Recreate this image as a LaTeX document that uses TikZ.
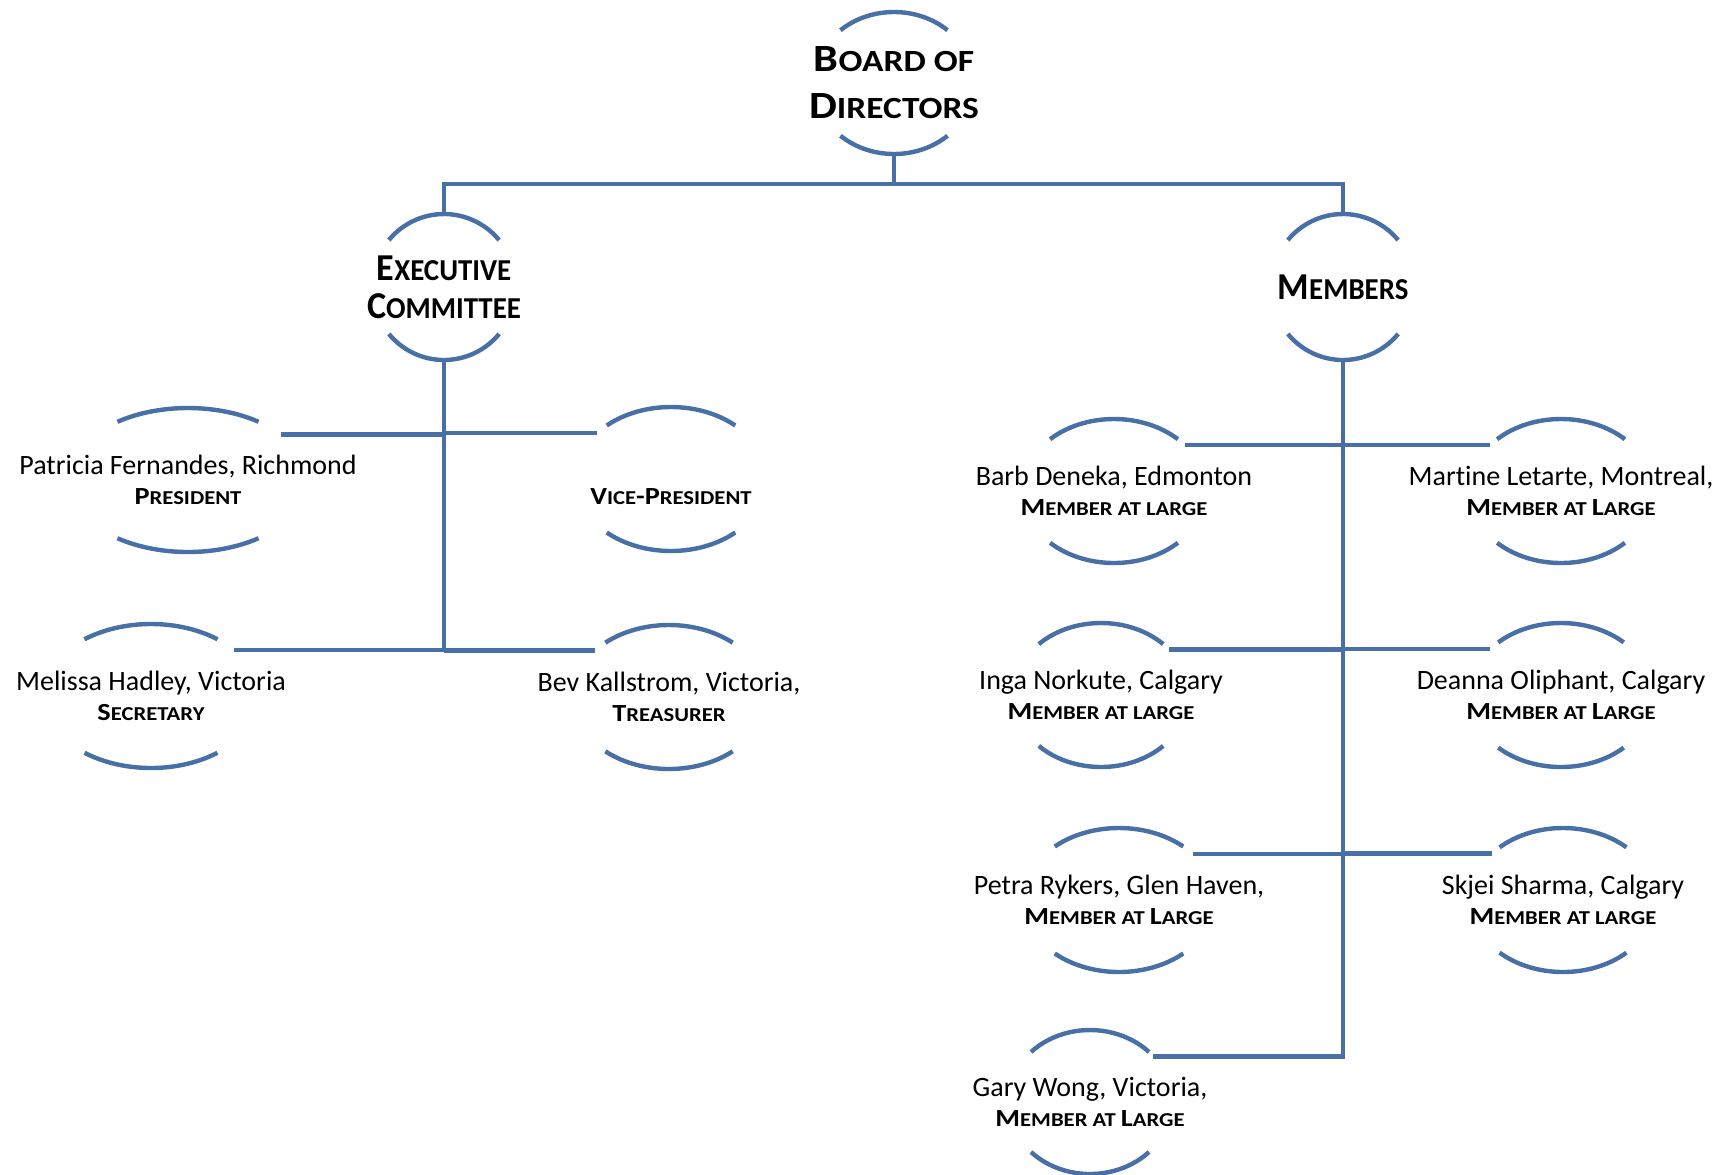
\documentclass[tikz,border=0pt]{standalone}
\usepackage{fontspec}
\setmainfont{Carlito}[Ligatures=NoCommon]
\newfontfamily\titlefam{Carlito}[FakeStretch=1.15, Ligatures=NoCommon]
\newfontfamily\headfam{Carlito}[FakeStretch=0.95, Ligatures=NoCommon]
\usetikzlibrary{shapes.geometric}
\definecolor{orgblue}{RGB}{72,112,166}
\makeatletter
\newcommand{\smc}[2]{#1{\fontsize{\fpeval{0.8*\f@size}}{\f@baselineskip}\selectfont #2}}
\makeatother
\newcommand{\namefont}{\fontsize{14}{15}\selectfont}
\newcommand{\boardfont}{\titlefam\bfseries\fontsize{19.25}{23.5}\selectfont}
\newcommand{\headfont}{\headfam\bfseries\fontsize{19}{19}\selectfont}
\newcommand{\role}[1]{{\titlefam\bfseries\fontsize{12.3}{15}\selectfont #1}}
% two open arcs round a node: name, x radius, y radius, half angle
\newcommand{\ringarcs}[4]{%
  \draw[arcline] (#1.center) ++(#4:#2 and #3) arc[start angle=#4, end angle=180-#4, x radius=#2, y radius=#3];
  \draw[arcline] (#1.center) ++(-#4:#2 and #3) arc[start angle=-#4, end angle=-180+#4, x radius=#2, y radius=#3];}

\begin{document}
\begin{tikzpicture}[x=0.5pt, y=0.5pt,
    ring/.style 2 args={ellipse, minimum width=#1pt, minimum height=#2pt, inner sep=0pt, outer sep=0pt},
    link/.style={draw=orgblue, line width=2.4pt},
    arcline/.style={draw=orgblue, line width=2.2pt},
    every label/.style={align=center, inner sep=0pt, font=\namefont}]
    \useasboundingbox (0,0) rectangle (1724,-1174);

    % Board
    \node (bod) [ring={80}{71}, label={[font=\boardfont]center:{\smc{B}{OARD OF}\\\smc{D}{IRECTORS}}}] at (894,-83) {};

    % Groups
    \node (exec) [ring={72}{73}, label={[font=\headfont]center:{\smc{E}{XECUTIVE}\\\smc{C}{OMMITTEE}}}] at (444,-287) {};
    \node (mem) [ring={72}{73}, label={[font=\headfont]center:{\smc{M}{EMBERS}}}] at (1343,-287) {};

    % Executive committee
    \node (pres) [ring={120}{72}, label={center:{Patricia Fernandes, Richmond\\\role{\smc{P}{RESIDENT}}}}] at (188,-480) {};
    \node (vp) [ring={96}{72}, label={center:{\strut\\\role{\smc{V}{ICE}-\smc{P}{RESIDENT}}}}] at (671,-479) {};
    \node (sec) [ring={108}{72}, label={center:{Melissa Hadley, Victoria\\\role{\smc{S}{ECRETARY}}}}] at (151,-696) {};
    \node (tre) [ring={97}{72}, label={center:{Bev Kallstrom, Victoria,\\\role{\smc{T}{REASURER}}}}] at (669,-697) {};

    % Members at large
    \node (barb) [ring={92}{72}, label={center:{Barb Deneka, Edmonton\\\role{\smc{M}{EMBER AT LARGE}}}}] at (1114,-491) {};
    \node (mart) [ring={92}{72}, label={center:{Martine Letarte, Montreal,\\\role{\smc{M}{EMBER AT }\smc{L}{ARGE}}}}] at (1561,-491) {};
    \node (inga) [ring={88}{72}, label={center:{Inga Norkute, Calgary\\\role{\smc{M}{EMBER AT LARGE}}}}] at (1101,-695) {};
    \node (dean) [ring={92}{72}, label={center:{Deanna Oliphant, Calgary\\\role{\smc{M}{EMBER AT }\smc{L}{ARGE}}}}] at (1561,-695) {};
    \node (pet) [ring={96}{72}, label={center:{Petra Rykers, Glen Haven,\\\role{\smc{M}{EMBER AT }\smc{L}{ARGE}}}}] at (1119,-900) {};
    \node (skj) [ring={93}{72}, label={center:{Skjei Sharma, Calgary\\\role{\smc{M}{EMBER AT LARGE}}}}] at (1563,-900) {};
    \node (gary) [ring={82}{72}, label={center:{Gary Wong, Victoria,\\\role{\smc{M}{EMBER AT }\smc{L}{ARGE}}}}] at (1090,-1102) {};

    % Arcs
    \ringarcs{bod}{80}{71}{48}
    \ringarcs{exec}{72}{73}{40}
    \ringarcs{mem}{72}{73}{40}
    \ringarcs{pres}{120}{72}{54}
    \ringarcs{vp}{96}{72}{48}
    \ringarcs{sec}{108}{72}{52}
    \ringarcs{tre}{97}{72}{49}
    \ringarcs{barb}{92}{72}{46}
    \ringarcs{mart}{92}{72}{46}
    \ringarcs{inga}{88}{72}{45}
    \ringarcs{dean}{92}{72}{47}
    \ringarcs{pet}{96}{72}{48}
    \ringarcs{skj}{93}{72}{47}
    \ringarcs{gary}{82}{72}{44}

    % Lines
    \coordinate (bar) at (894,-184);
    \draw[link] (bod.south) -- (bar);
    \draw[link] (exec.north) |- (bar) -| (mem.north);
    \draw[link] (exec.south) -- (exec.south |- sec.29);
    \draw[link] (pres.26) -- (pres.26 -| exec.south);
    \draw[link] (vp.148) -- (vp.148 -| exec.south);
    \draw[link] (sec.29) -- (sec.29 -| exec.south);
    \draw[link] (tre.148) -- (tre.148 -| exec.south);
    \draw[link] (mem.south) |- (gary.36);
    \draw[link] (barb.33) -- (barb.33 -| mem.south);
    \draw[link] (mart.147) -- (mart.147 -| mem.south);
    \draw[link] (inga.34) -- (inga.34 -| mem.south);
    \draw[link] (dean.147) -- (dean.147 -| mem.south);
    \draw[link] (pet.32) -- (pet.32 -| mem.south);
    \draw[link] (skj.147) -- (skj.147 -| mem.south);
\end{tikzpicture}
\end{document}
